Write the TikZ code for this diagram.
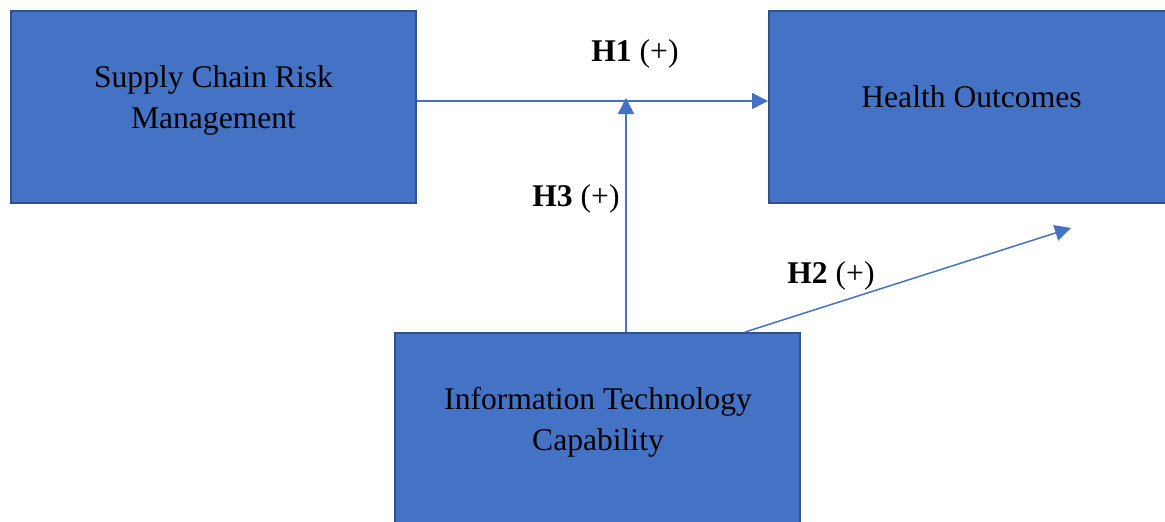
\documentclass[tikz,border=0pt]{standalone}
\usepackage{fontspec}
\setmainfont{Liberation Serif}
\usetikzlibrary{arrows.meta,calc}
\definecolor{boxfill}{HTML}{4472C4}
\definecolor{boxline}{HTML}{2F528F}
\begin{document}
\begin{tikzpicture}[x=0.5pt,y=-0.5pt,
  box/.style={draw=boxline,line width=1pt,fill=boxfill,minimum width=202.5pt,minimum height=96pt,inner sep=0pt},
  lbl/.style={font=\fontsize{15.8}{20.5}\selectfont,align=center,inner sep=0pt},
  hyp/.style={font=\fontsize{15.8}{19}\selectfont,inner sep=0pt,anchor=base west},
  conn/.style={draw=boxfill,line width=0.75pt,-{Triangle[length=8pt,width=8pt]}}]
\useasboundingbox (0,0) rectangle (1165,521);
\clip (0,0) rectangle (1165,521);
\node[box] (scrm) at (213.5,107) {};
\node[box] (ho) at (971.5,107) {};
\node[box] (itc) at (597.5,429) {};
\node[lbl] (t1) at (213.5,100) {Supply Chain Risk\\Management};
\node[lbl,anchor=base] (t2) at (971.5,107) {Health Outcomes};
\node[lbl] (t3) at (598,422) {Information Technology\\Capability};
\coordinate (h1) at (0,101);
\coordinate (h3x) at (626,0);
\coordinate (h3tip) at (626,98);
\coordinate (h2s) at (745,0);
\coordinate (h2tip) at (1071,228);
\draw[conn] (scrm.east |- h1) -- (ho.west |- h1);
\draw[conn] (itc.north -| h3x) -- (h3tip);
\draw[conn] (itc.north -| h2s) -- (h2tip);
\node[hyp] (l1) at (591,61) {\textbf{H1} (+)};
\node[hyp] (l3) at (532,206) {\textbf{H3} (+)};
\node[hyp] (l2) at (787,283) {\textbf{H2} (+)};
\end{tikzpicture}
\end{document}
